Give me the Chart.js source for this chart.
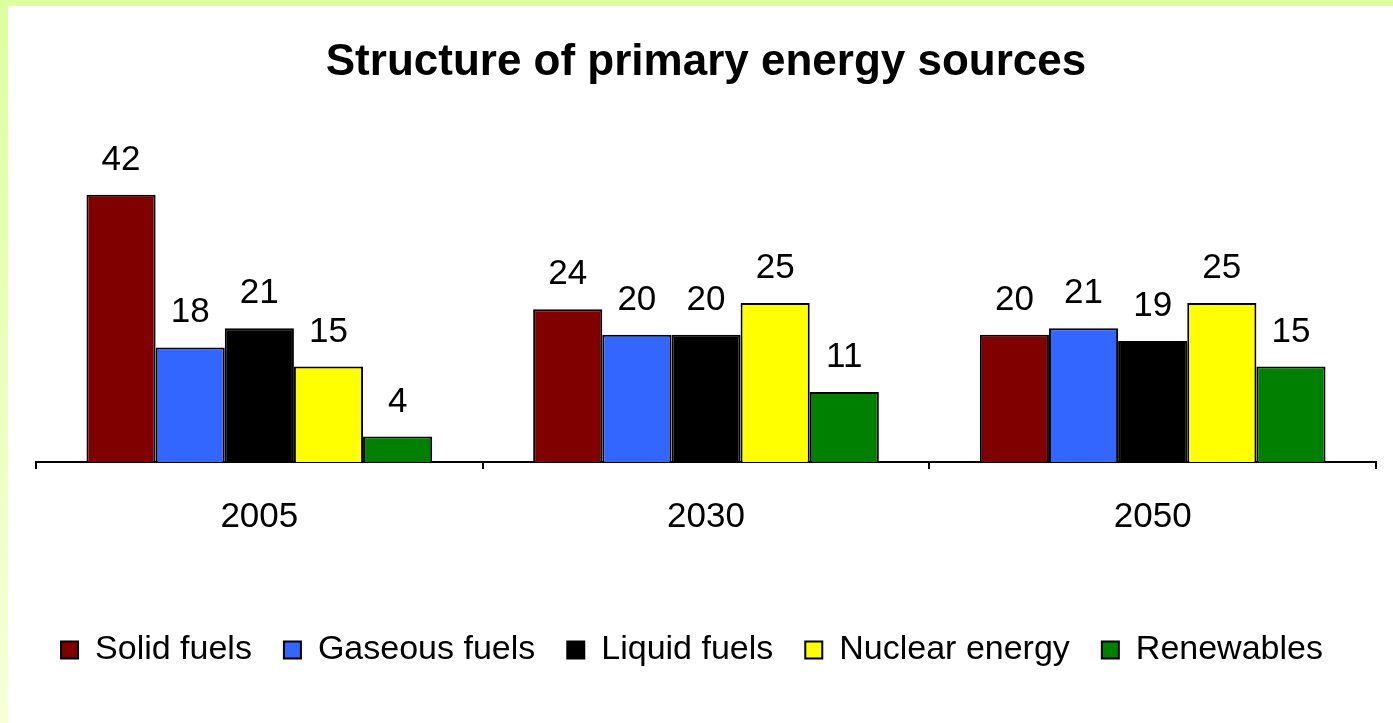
<!DOCTYPE html>
<html><head><meta charset="utf-8">
<script src="https://cdn.jsdelivr.net/npm/chart.js@4/dist/chart.umd.min.js"></script>
<style>
html,body{margin:0;padding:0;width:1393px;height:723px;overflow:hidden;background:linear-gradient(#dcffa0,#f8ffd8);}
#wrap{position:absolute;left:8px;top:6px;width:1385px;height:717px;background:#fff;}
</style></head><body>
<div id="wrap"><canvas id="c" width="1385" height="717"></canvas></div>
<script>
const categories = ["2005", "2030", "2050"];
const seriesNames = ["Solid fuels", "Gaseous fuels", "Liquid fuels", "Nuclear energy", "Renewables"];
const solidFuels = [42, 24, 20];
const gaseousFuels = [18, 20, 21];
const liquidFuels = [21, 20, 19];
const nuclearEnergy = [15, 25, 25];
const renewables = [4, 11, 15];
const seriesColors = ["#800000", "#3366ff", "#000000", "#ffff00", "#008000"];
const seriesValues = [solidFuels, gaseousFuels, liquidFuels, nuclearEnergy, renewables];

const FONT = "'Liberation Sans', Arial, sans-serif";

const labelPlugin = {
  id: 'valueLabels',
  afterLayout(chart) {
    if (chart.legend) { chart.legend.left -= 14; chart.legend.right -= 14; }
  },
  afterDatasetsDraw(chart) {
    const ctx = chart.ctx;
    ctx.save();
    ctx.font = "35px " + FONT;
    ctx.fillStyle = "#000";
    ctx.textAlign = "center";
    ctx.textBaseline = "alphabetic";
    chart.data.datasets.forEach((ds, i) => {
      const meta = chart.getDatasetMeta(i);
      meta.data.forEach((bar, j) => {
        ctx.fillText(String(ds.data[j]), bar.x, bar.y - 25);
      });
    });
    ctx.restore();
  }
};

new Chart(document.getElementById('c'), {
  type: 'bar',
  data: {
    labels: categories,
    datasets: seriesNames.map((n, i) => ({
      label: n,
      data: seriesValues[i],
      backgroundColor: seriesColors[i],
      borderColor: "#000",
      borderWidth: 2,
      categoryPercentage: 0.774,
      barPercentage: 1.0
    }))
  },
  options: {
    responsive: false,
    animation: false,
    devicePixelRatio: 1,
    layout: { padding: { left: 28, right: 17, top: 0, bottom: 46 } },
    plugins: {
      title: {
        display: true,
        text: "Structure of primary energy sources",
        color: "#000",
        font: { family: FONT, size: 44, weight: 'bold' },
        padding: { top: 30, bottom: 55 }
      },
      legend: {
        display: true,
        position: 'bottom',
        labels: {
          color: "#000",
          font: { family: FONT, size: 34 },
          boxWidth: 17,
          boxHeight: 17,
          padding: 32
        }
      },
      tooltip: { enabled: false }
    },
    scales: {
      x: {
        offset: true,
        grid: { display: true, drawOnChartArea: false, drawTicks: true, tickLength: 7, color: "#000", lineWidth: 2, offset: true },
        border: { display: true, color: "#000", width: 2 },
        ticks: { color: "#000", font: { family: FONT, size: 35 }, padding: 27 },
        afterFit: (scale) => { scale.height = 139; }
      },
      y: {
        display: false,
        min: 0,
        max: 50
      }
    }
  },
  plugins: [labelPlugin]
});
</script>
</body></html>
